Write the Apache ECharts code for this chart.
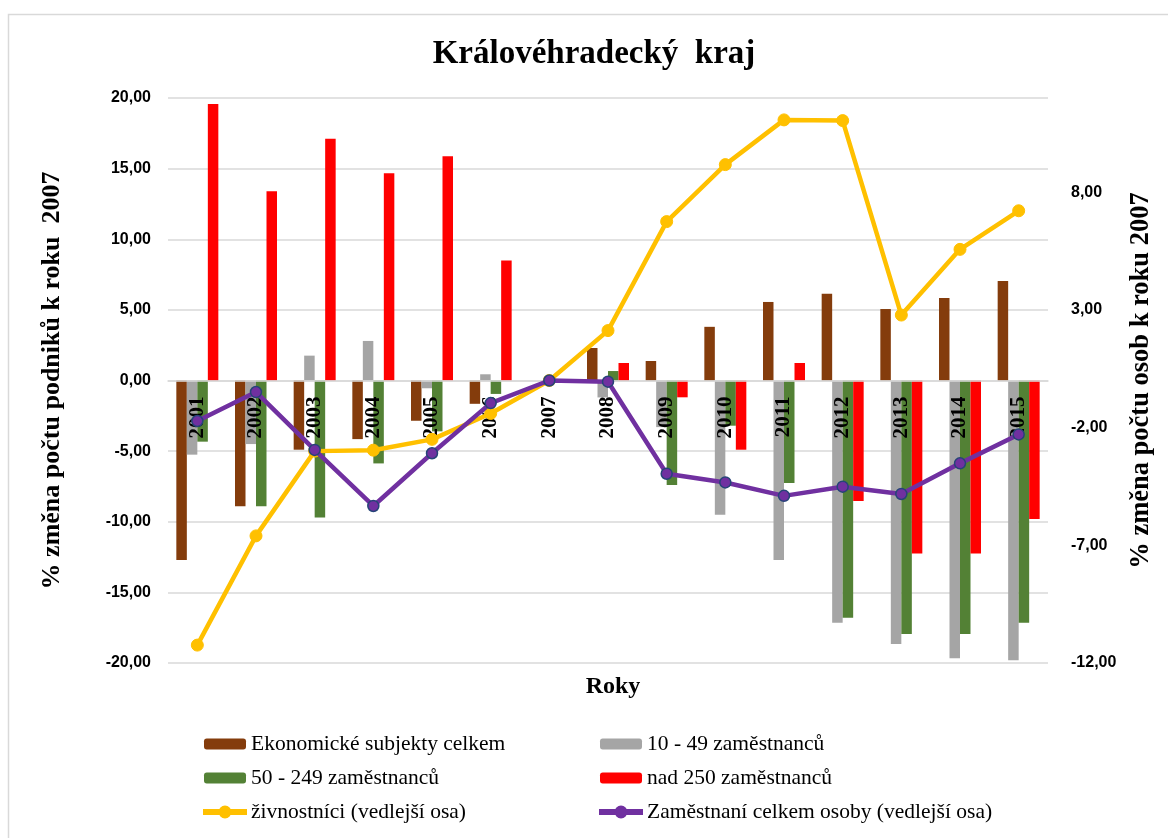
<!DOCTYPE html>
<html>
<head>
<meta charset="utf-8">
<script src="https://cdn.jsdelivr.net/npm/echarts@6/dist/echarts.min.js"></script>
<style>
html,body{margin:0;padding:0;background:#fff;}
#chart{width:1168px;height:838px;}
</style>
</head>
<body>
<div id="chart"></div>
<script>
var years = ['2001','2002','2003','2004','2005','2006','2007','2008','2009','2010','2011','2012','2013','2014','2015'];
var ekonomicke = [-12.7,-8.9,-4.9,-4.15,-2.85,-1.65,0,2.3,1.38,3.8,5.56,6.15,5.06,5.84,7.04];
var zam10_49 = [-5.25,-4.5,1.76,2.8,-0.55,0.44,0,-1.2,-3.3,-9.5,-12.7,-17.15,-18.65,-19.67,-19.8];
var zam50_249 = [-4.33,-8.9,-9.7,-5.87,-3.6,-0.95,0,0.67,-7.4,-3.2,-7.26,-16.8,-17.95,-17.95,-17.15];
var nad250 = [19.57,13.4,17.12,14.67,15.87,8.5,0,1.24,-1.19,-4.9,1.24,-8.53,-12.24,-12.24,-9.8];
var zivnostnici = [-11.24,-6.6,-3.0,-2.96,-2.5,-1.4,0,2.12,6.75,9.17,11.07,11.04,2.78,5.57,7.21];
var zamestnani = [-1.72,-0.49,-2.95,-5.33,-3.09,-0.96,0,-0.05,-3.96,-4.33,-4.9,-4.51,-4.82,-3.52,-2.29];

var names = ['Ekonomické subjekty celkem','10 - 49 zaměstnanců','50 - 249 zaměstnanců','nad 250 zaměstnanců','živnostníci (vedlejší osa)','Zaměstnaní celkem osoby (vedlejší osa)'];

var serif = '"Liberation Serif", "Times New Roman", serif';
var sans = '"Liberation Sans", Arial, sans-serif';
function fmt(v){ return v.toFixed(2).replace('.', ','); }

var chart = echarts.init(document.getElementById('chart'));
function bar(name, data, color){
  return {name:name, type:'bar', data:data, barWidth:10.5, barGap:'0%', z:2,
    itemStyle:{color:color}};
}
var lineIcon = 'path://M0,3H42V7H0Z M15.5,5A5.5,5.5 0 1,1 26.5,5A5.5,5.5 0 1,1 15.5,5Z';
var legendText = {fontFamily:serif, fontSize:21.5, color:'#000', lineHeight:21};
var gridTop = 98, gridBottom = 175, plotH = 838 - gridTop - gridBottom;
chart.setOption({
  animation:false,
  backgroundColor:'#fff',
  graphic:[{type:'rect', shape:{x:8.5,y:14.5,width:1200,height:900}, style:{fill:'none', stroke:'#d9d9d9', lineWidth:1.5}, silent:true}],
  title:[
    {text:'Královéhradecký  kraj', left:589, textAlign:'center', top:33,
     textStyle:{fontFamily:serif, fontSize:33, fontWeight:'bold', color:'#000'}},
    {text:'Roky', left:608, textAlign:'center', top:670,
     textStyle:{fontFamily:serif, fontSize:24, fontWeight:'bold', color:'#000'}}
  ],
  grid:{left:168, right:120, top:gridTop, bottom:gridBottom, containLabel:false},
  legend:[
    {orient:'vertical', left:198, top:728, itemWidth:42, itemHeight:11, itemGap:12,
     data:[names[0], names[2], {name:names[4], icon:lineIcon}], textStyle:legendText},
    {orient:'vertical', left:594, top:728, itemWidth:42, itemHeight:11, itemGap:12,
     data:[names[1], names[3], {name:names[5], icon:lineIcon, itemStyle:{borderColor:'#7030A0'}}], textStyle:legendText}
  ],
  xAxis:{type:'category', data:years, z:3, position:'bottom', offset:-plotH/2,
    axisLine:{onZero:false, lineStyle:{color:'#d9d9d9', width:1.5}},
    axisTick:{show:false},
    axisLabel:{interval:0, rotate:90, margin:16, fontFamily:serif, fontSize:21, fontWeight:'bold', color:'#000'}},
  yAxis:[
    {type:'value', min:-20, max:20, interval:5, position:'left',
     name:'% změna počtu podniků k roku  2007', nameLocation:'middle', nameGap:103, nameRotate:90,
     nameTextStyle:{fontFamily:serif, fontSize:26, fontWeight:'bold', color:'#000'},
     axisLine:{show:false}, axisTick:{show:false},
     splitLine:{lineStyle:{color:'#d9d9d9', width:1.5}},
     axisLabel:{formatter:fmt, margin:17, fontFamily:sans, fontSize:16, fontWeight:'bold', color:'#000'}},
    {type:'value', min:-12, max:12, interval:5, position:'right',
     name:'% změna počtu osob k roku 2007', nameLocation:'middle', nameGap:79, nameRotate:90,
     nameTextStyle:{fontFamily:serif, fontSize:26.5, fontWeight:'bold', color:'#000'},
     axisLine:{show:false}, axisTick:{show:false}, splitLine:{show:false},
     axisLabel:{formatter:function(v){return v===12?'':fmt(v);}, margin:23, fontFamily:sans, fontSize:16, fontWeight:'bold', color:'#000'}}
  ],
  series:[
    bar(names[0], ekonomicke, '#843C0C'),
    bar(names[1], zam10_49, '#A5A5A5'),
    bar(names[2], zam50_249, '#538135'),
    bar(names[3], nad250, '#FF0000'),
    {name:names[4], type:'line', yAxisIndex:1, data:zivnostnici, z:4,
     symbol:'circle', symbolSize:12, lineStyle:{color:'#FFC000', width:4.5},
     itemStyle:{color:'#FFC000', borderColor:'#FFC000', borderWidth:1}},
    {name:names[5], type:'line', yAxisIndex:1, data:zamestnani, z:5,
     symbol:'circle', symbolSize:11, lineStyle:{color:'#7030A0', width:4.5},
     itemStyle:{color:'#7030A0', borderColor:'#264478', borderWidth:1.5}}
  ]
});
</script>
</body>
</html>
